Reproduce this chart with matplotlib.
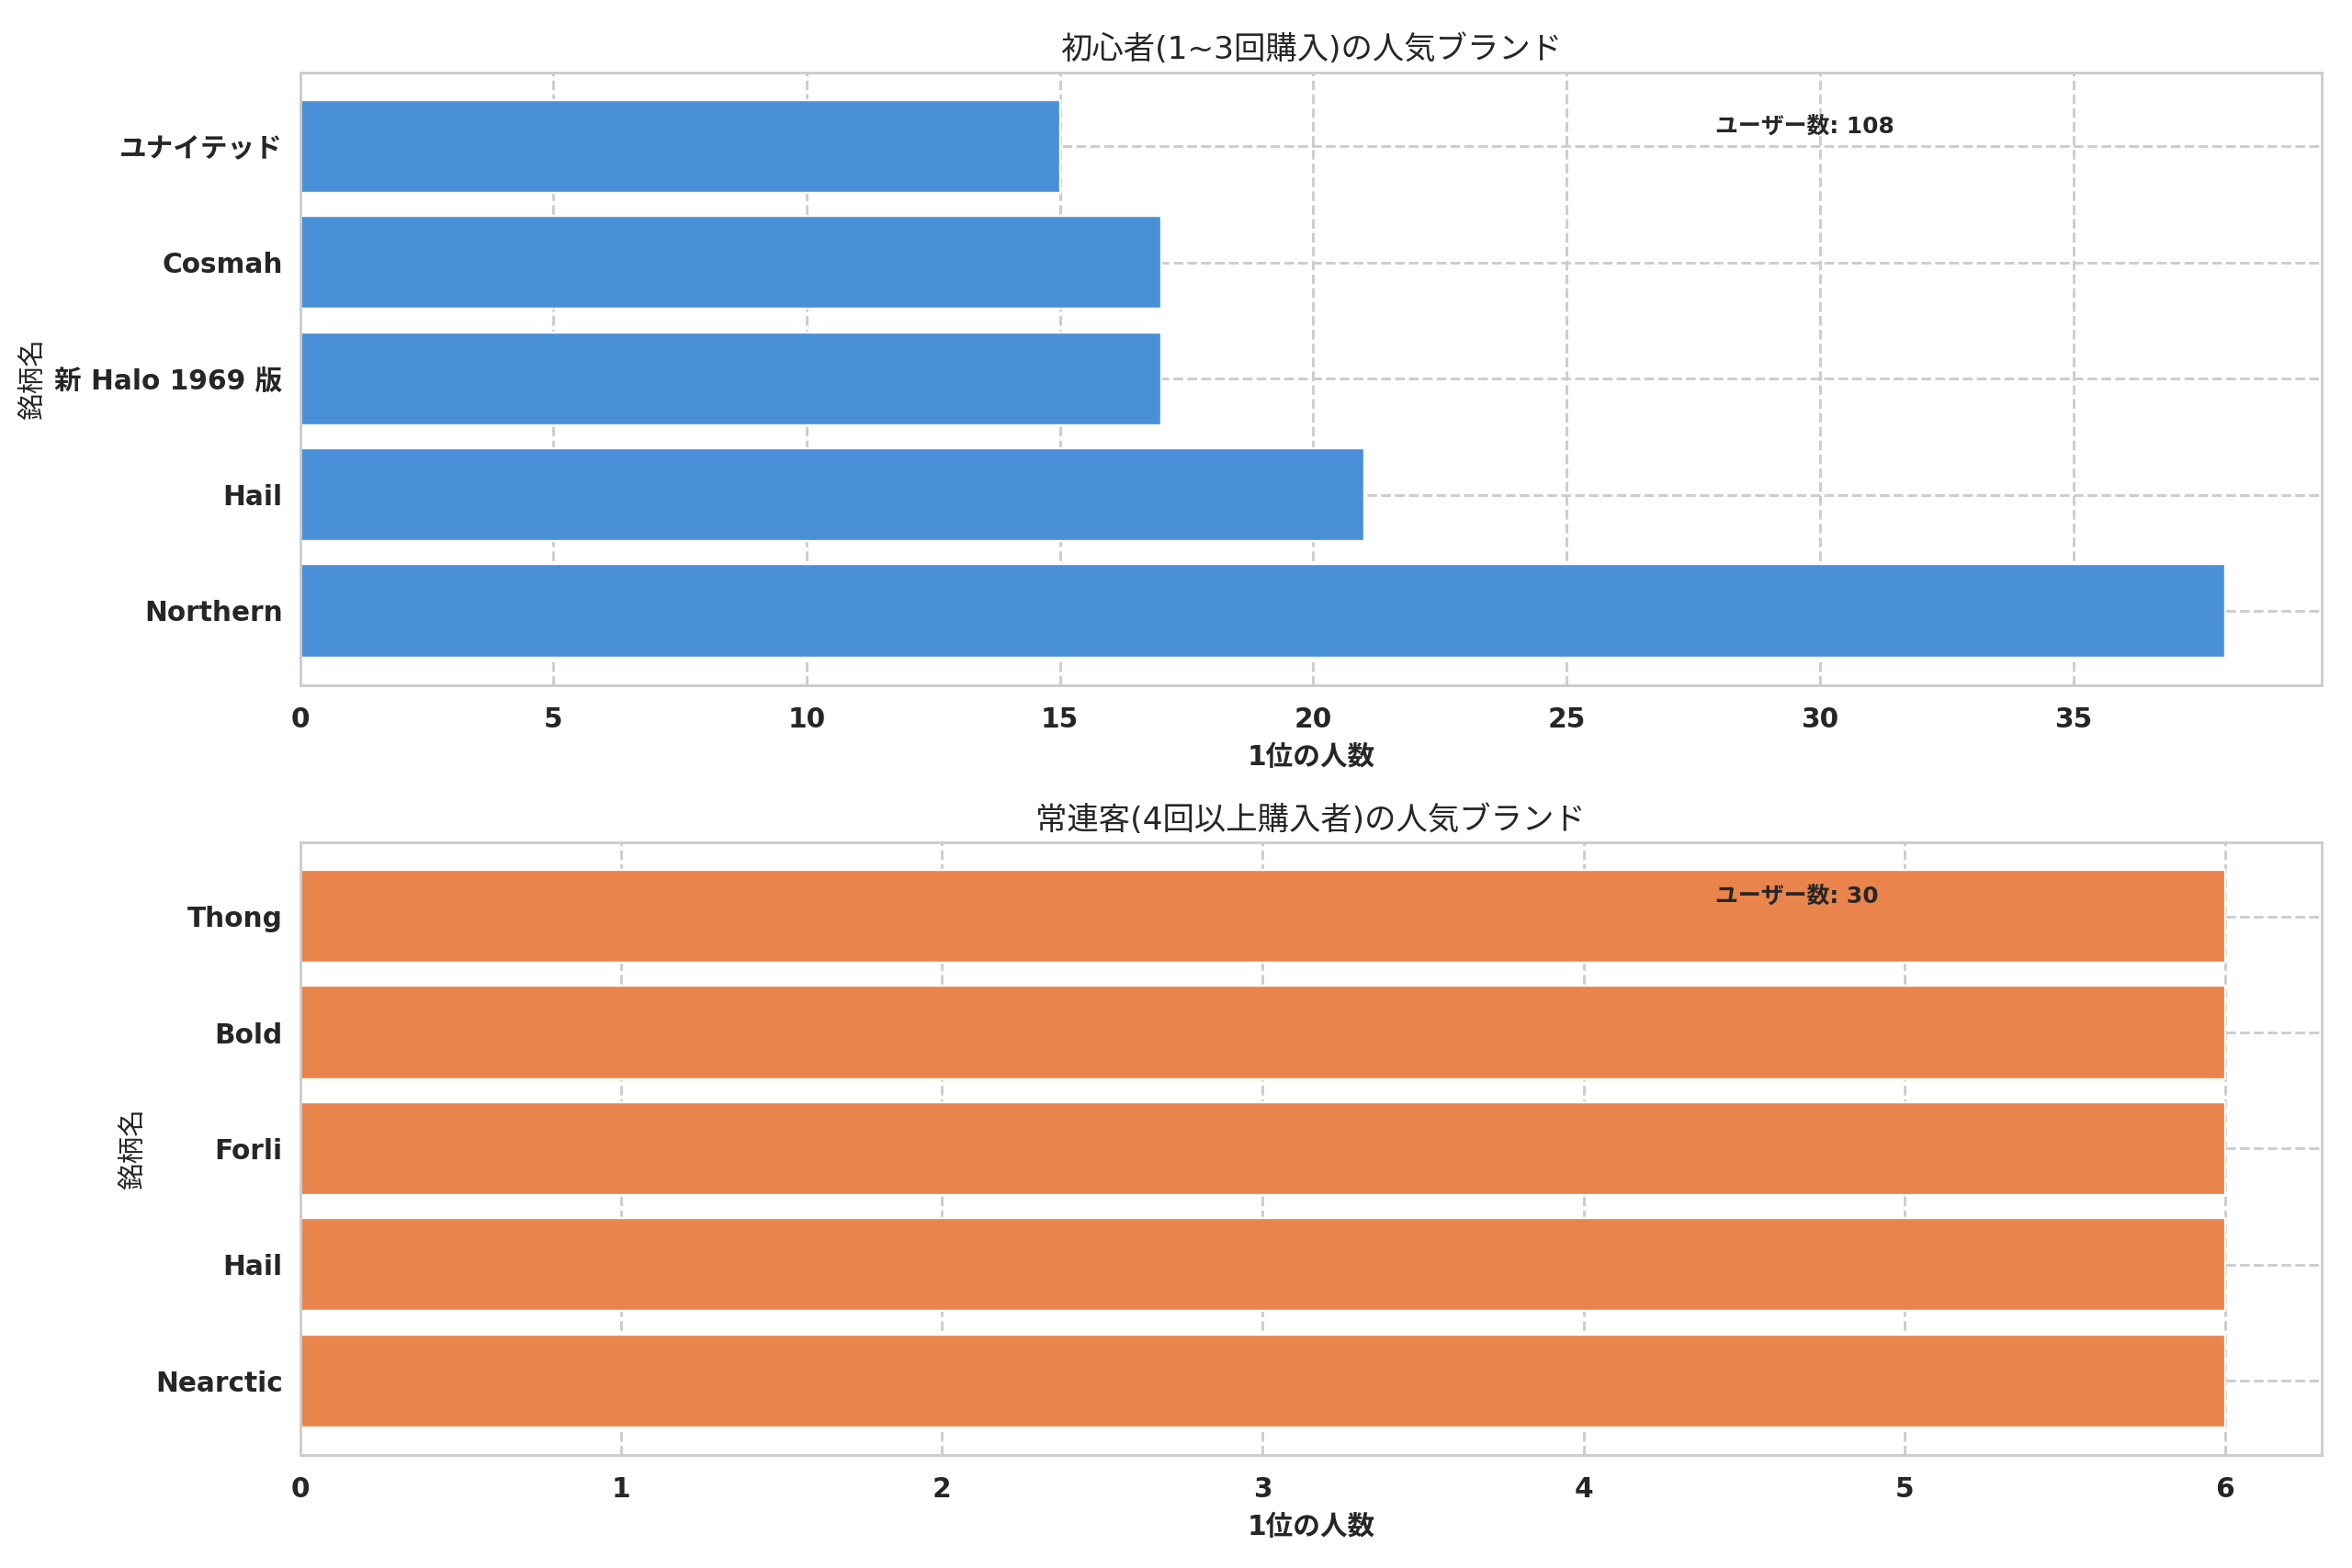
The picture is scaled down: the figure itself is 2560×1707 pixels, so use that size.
import matplotlib
matplotlib.use("Agg")
import matplotlib.pyplot as plt
import seaborn as sns

sns.set_style("whitegrid")
plt.rcParams['font.family'] = ['DejaVu Sans', 'Noto Sans CJK JP']

# Data
brands_new = ['Northern', 'Hail', '新 Halo 1969 版', 'Cosmah', 'ユナイテッド']
counts_new = [38, 21, 17, 17, 15]
users_new = 108

brands_rep = ['Nearctic', 'Hail', 'Forli', 'Bold', 'Thong']
counts_rep = [6, 6, 6, 6, 6]
users_rep = 30

title_new = '初心者(1~3回購入)の人気ブランド'
title_rep = '常連客(4回以上購入者)の人気ブランド'
xlabel = '1位の人数'
ylabel = '銘柄名'
note_label = 'ユーザー数'

dpi = 2560 / 15
fig, axes = plt.subplots(2, 1, figsize=(15, 1707 / dpi), dpi=dpi)
fig.subplots_adjust(left=0.1276, right=0.987, top=0.954, bottom=0.072, hspace=0.256)

panels = [
    (axes[0], brands_new, counts_new, users_new, title_new, '#4A90D9'),
    (axes[1], brands_rep, counts_rep, users_rep, title_rep, '#E8844C'),
]

for ax, names, vals, users, title, color in panels:
    ax.barh(names, vals, color=color, height=0.8, zorder=2)
    ax.set_axisbelow(True)
    ax.grid(True, linestyle='--', color='#cccccc', linewidth=1.2)
    ax.set_title(title, fontsize=14.5)
    ax.set_xlabel(xlabel, fontsize=12.5, fontweight='bold', labelpad=5)
    ax.set_ylabel(ylabel, fontsize=12.5)
    ax.tick_params(axis='x', pad=6.2)
    ax.tick_params(axis='y', pad=4.5)
    for lbl in ax.get_xticklabels() + ax.get_yticklabels():
        lbl.set_fontweight('bold')
        lbl.set_fontsize(12.5)
    ax.text(0.7, 0.912, f'{note_label}: {users}', transform=ax.transAxes,
            fontsize=10.5, fontweight='bold', ha='left', va='center', color='#262626')
    for s in ax.spines.values():
        s.set_color('#cccccc')
        s.set_linewidth(1.2)

fig.savefig('out.png', dpi=dpi)
